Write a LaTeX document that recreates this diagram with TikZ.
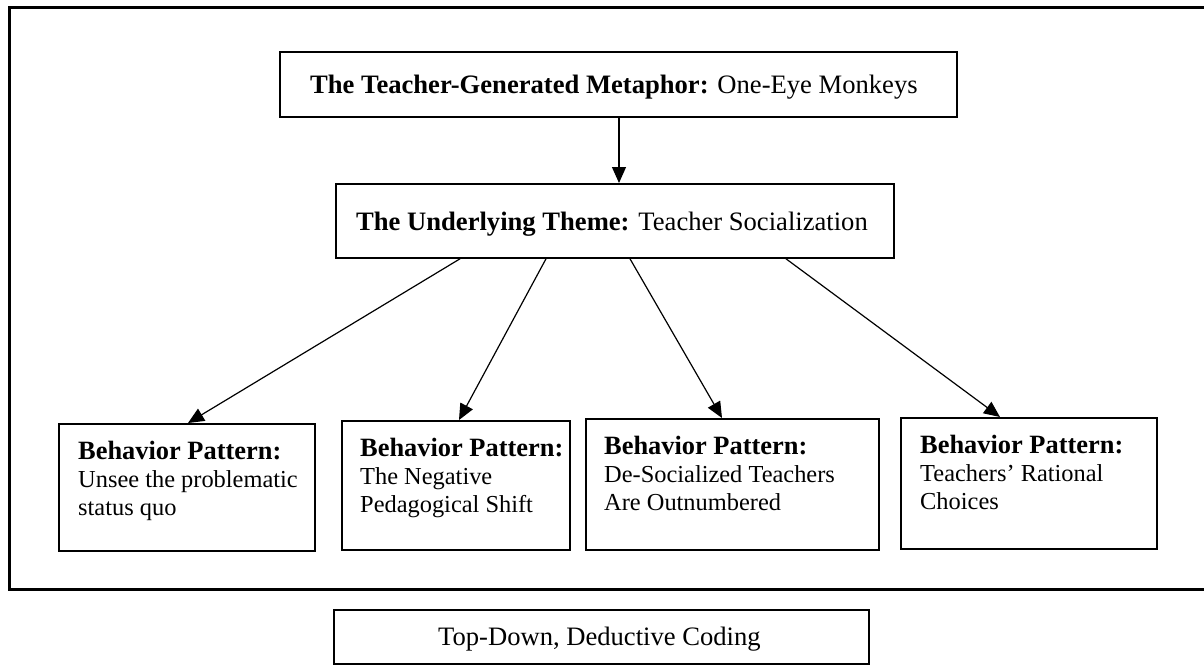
\documentclass[tikz,border=0pt]{standalone}
\usepackage{fontspec}
\setmainfont{Liberation Serif}
\usetikzlibrary{arrows.meta}
\begin{document}
\begin{tikzpicture}[x=1pt,y=-1pt,
  box/.style={draw, rectangle, line width=1.8pt, inner sep=0pt, anchor=north west},
  txt/.style={inner sep=0pt, anchor=base west, font=\fontsize{26.6}{28}\selectfont},
  ptxt/.style={inner sep=0pt, anchor=north west, align=left, font=\fontsize{24.4}{28}\selectfont},
  link/.style={line width=1.2pt, -{Triangle[length=16pt,width=14pt]}}]
\newcommand{\pathead}{{\fontsize{26.4}{28}\selectfont\textbf{Behavior Pattern:}}}
\useasboundingbox (0,0) rectangle (1204,664);
\fill[white] (0,0) rectangle (1204,664);
% outer frame (right side runs past the page edge)
\draw[line width=3pt] (9,7) rectangle (1215,589);
% metaphor and theme
\node[box, minimum width=677pt, minimum height=65pt] (meta) at (279,51) {};
\node[txt] (metat) at (310,93) {\textbf{The Teacher-Generated Metaphor:} One-Eye Monkeys};
\node[box, minimum width=558pt, minimum height=74pt] (theme) at (335,183) {};
\node[txt] (themet) at (356,230) {\textbf{The Underlying Theme:} Teacher Socialization};
% behaviour patterns
\node[box, minimum width=256pt, minimum height=127pt] (b1) at (58,423) {};
\node[box, minimum width=228pt, minimum height=129pt] (b2) at (341,420) {};
\node[box, minimum width=293pt, minimum height=131pt] (b3) at (585,418) {};
\node[box, minimum width=256pt, minimum height=131pt] (b4) at (900,417) {};
\node[ptxt] (b1t) at (78,441) {\pathead\\Unsee the problematic\\status quo};
\node[ptxt] (b2t) at (360,438) {\pathead\\The Negative\\Pedagogical Shift};
\node[ptxt] (b3t) at (604,436) {\pathead\\De-Socialized Teachers\\Are Outnumbered};
\node[ptxt] (b4t) at (920,435) {\pathead\\Teachers’ Rational\\Choices};
% caption
\node[box, minimum width=535pt, minimum height=54pt] (cap) at (333,609) {};
\node[txt] (capt) at (438,645) {Top-Down, Deductive Coding};
% connectors
\draw[link] ([xshift=340pt]meta.south west) -- ([xshift=284pt]theme.north west);
\draw[link] ([xshift=125pt]theme.south west) -- ([xshift=130pt]b1.north west);
\draw[link] ([xshift=211pt]theme.south west) -- ([xshift=118pt]b2.north west);
\draw[link] ([xshift=295pt]theme.south west) -- ([xshift=137pt]b3.north west);
\draw[link] ([xshift=451pt]theme.south west) -- ([xshift=100pt]b4.north west);
\end{tikzpicture}
\end{document}
